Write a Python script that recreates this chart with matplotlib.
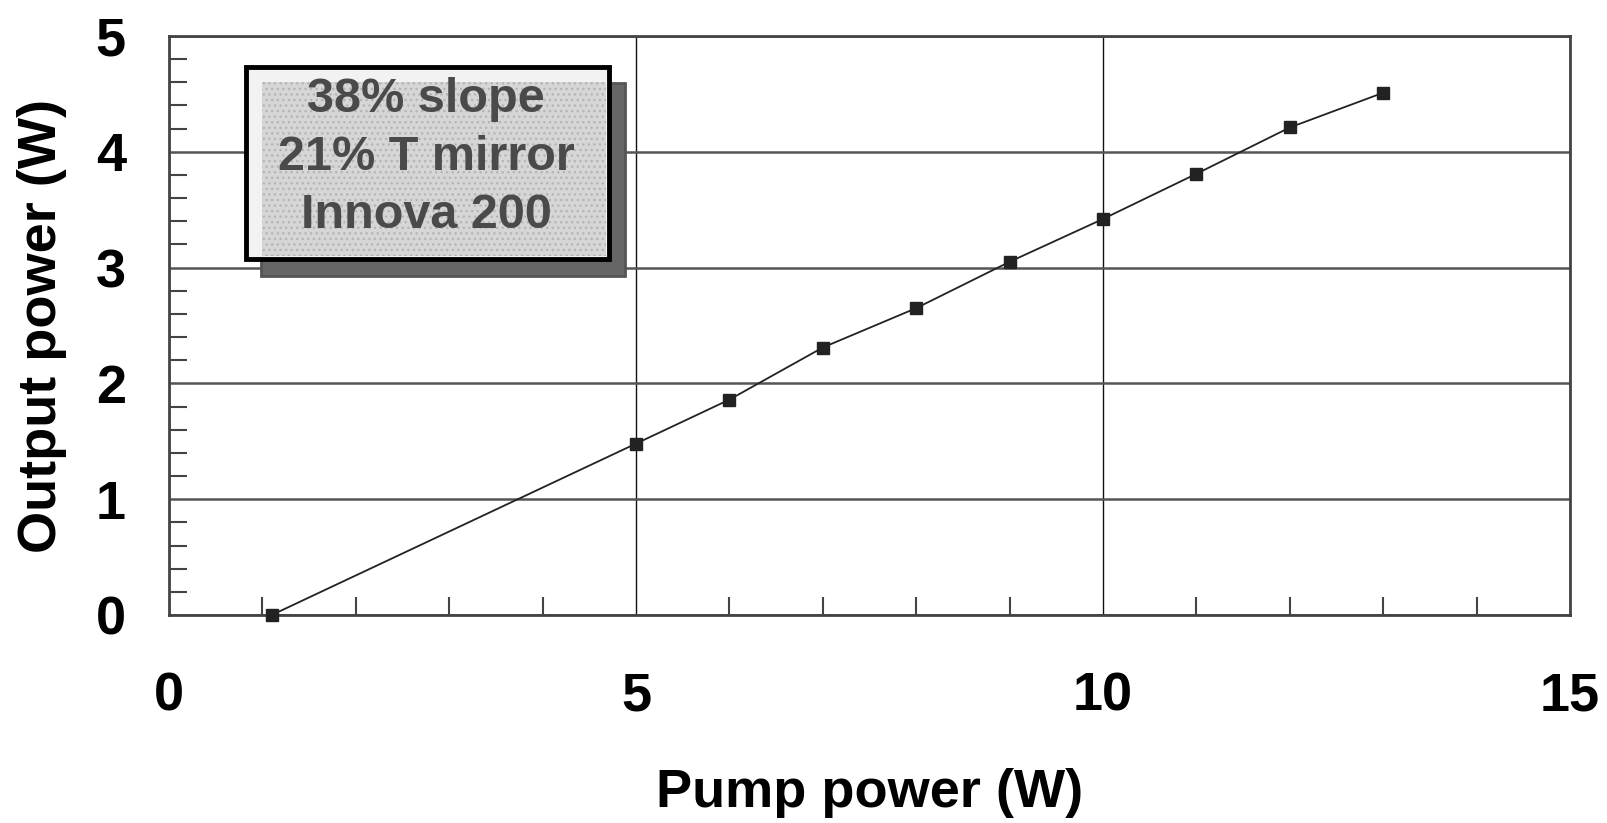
import matplotlib
matplotlib.use('Agg')
import matplotlib.pyplot as plt
from matplotlib.patches import Rectangle
import numpy as np

# pump power (W) vs output power (W)
pump = [1.1, 5, 6, 7, 8, 9, 10, 11, 12, 13]
output = [0.0, 1.48, 1.86, 2.31, 2.65, 3.05, 3.42, 3.81, 4.21, 4.51]
box_lines = ['38% slope', '21% T mirror', 'Innova 200']

plt.rcParams['font.family'] = ['Liberation Sans', 'DejaVu Sans']
plt.rcParams['font.weight'] = 'bold'

W, H = 1607, 823
fig = plt.figure(figsize=(W / 100, H / 100), dpi=100)
ax = fig.add_axes([169 / W, (H - 615) / H, (1570 - 169) / W, (615 - 36) / H])

ax.plot(pump, output, color='#222222', lw=1.3, marker='s', ms=9,
        markerfacecolor='#222222', markeredgecolor='#222222', zorder=5, clip_on=False)

ax.set_xlim(0, 15)
ax.set_ylim(0, 5)
ax.set_xticks([0, 5, 10, 15])
ax.set_yticks([0, 1, 2, 3, 4, 5])
ax.set_xticks(np.arange(0, 16, 1), minor=True)
ax.set_yticks(np.arange(0, 5.01, 0.2), minor=True)

ax.tick_params(axis='x', which='major', length=0, pad=41, labelsize=39)
ax.tick_params(axis='y', which='major', length=0, pad=31, labelsize=39)
ax.tick_params(axis='x', which='minor', direction='in', length=13, width=1.5, color='#444444')
ax.tick_params(axis='y', which='minor', direction='in', length=13, width=1.5, color='#444444')

ax.yaxis.grid(True, which='major', color='#555555', lw=1.8)
ax.xaxis.grid(True, which='major', color='#111111', lw=1.0)
ax.set_axisbelow(True)

for sp in ax.spines.values():
    sp.set_color('#444444')
    sp.set_linewidth(2)

ax.set_xlabel('Pump power (W)', fontsize=39, fontweight='bold', labelpad=33)
ax.set_ylabel('Output power (W)', fontsize=39, fontweight='bold', labelpad=21)

# text box with drop shadow (figure pixels)
def fig_rect(x0, y0, x1, y1, **kw):
    r = Rectangle((x0 / W, 1 - y1 / H), (x1 - x0) / W, (y1 - y0) / H,
                  transform=fig.transFigure, **kw)
    fig.patches.append(r)
    return r

fig_rect(261, 83, 625, 276, facecolor='#666666', edgecolor='#555555', lw=2, zorder=10)
fig_rect(246, 67, 609, 259, facecolor='#f2f2f2', edgecolor='none', lw=0, zorder=11)
fig_rect(262, 82, 606, 256, facecolor='#d6d6d6', edgecolor='#b5b5b5', lw=0,
         hatch='...', zorder=12)
fig_rect(246, 67, 609, 259, facecolor='none', edgecolor='black', lw=3.5, zorder=13)

for i, line in enumerate(box_lines):
    fig.text(426 / W, 1 - (100 + 58 * i) / H, line, ha='center', va='center',
             fontsize=35, fontweight='bold', color='#4a4a4a', zorder=14)

fig.savefig('out.png', dpi=100)
